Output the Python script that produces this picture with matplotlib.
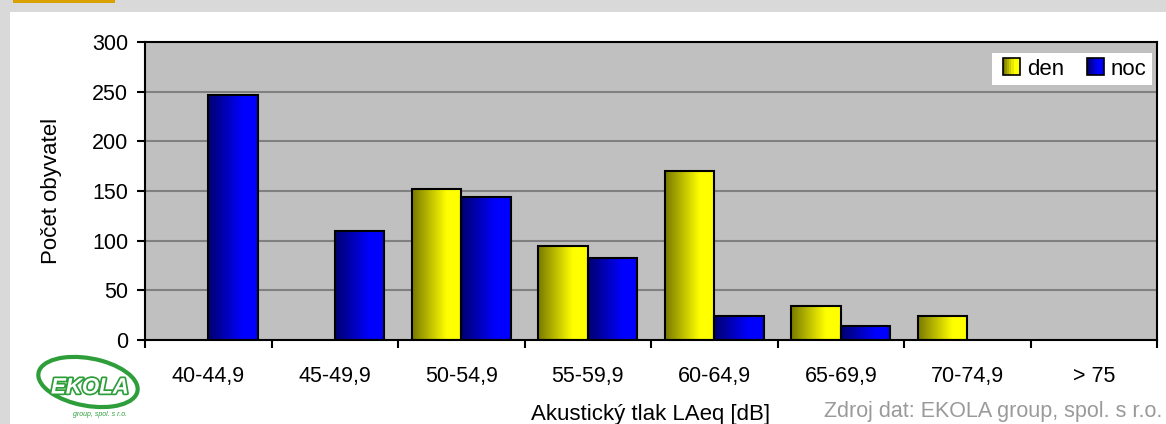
import numpy as np
import matplotlib
matplotlib.use("Agg")
from matplotlib import pyplot as plt
from matplotlib.colors import LinearSegmentedColormap
from matplotlib.patches import Rectangle, Ellipse
from matplotlib.legend_handler import HandlerBase
import matplotlib.patheffects as pe

categories = ["40-44,9", "45-49,9", "50-54,9", "55-59,9", "60-64,9", "65-69,9", "70-74,9", "> 75"]
den = [0, 0, 152, 95, 170, 34, 24, 0]
noc = [247, 110, 144, 83, 24, 14, 0, 0]
y_ticks = [0, 50, 100, 150, 200, 250, 300]

plt.rcParams['font.family'] = ['Liberation Sans', 'DejaVu Sans']

W, H = 1166, 424
fig = plt.figure(figsize=(W / 100, H / 100), dpi=100)
fig.patch.set_facecolor('#d9d9d9')

# white panel and orange tab
fig.add_artist(Rectangle((10 / W, 0), 1 - 10 / W, (H - 12) / H, transform=fig.transFigure,
                         facecolor='white', edgecolor='none', zorder=0))
fig.add_artist(Rectangle((13 / W, (H - 3) / H), 102 / W, 3 / H, transform=fig.transFigure,
                         facecolor='#d9a000', edgecolor='none', zorder=0))

ax = fig.add_axes([145 / W, (H - 340) / H, 1012 / W, 298 / H])
ax.set_facecolor('#c0c0c0')

cmap_den = LinearSegmentedColormap.from_list('den', [(0, '#7a7a00'), (0.7, '#ffff00'), (1, '#ffff00')])
cmap_noc = LinearSegmentedColormap.from_list('noc', [(0, '#000070'), (0.7, '#0000ff'), (1, '#0000ff')])
grad = np.linspace(0, 1, 64).reshape(1, -1)

x = np.arange(len(categories))
bw = 0.39


def gradient_bars(xs, vals, cmap):
    bars = ax.bar(xs, vals, width=bw, facecolor='none', edgecolor='black', linewidth=1.5, zorder=3)
    for b in bars:
        if b.get_height() <= 0:
            b.set_visible(False)
            continue
        x0, w, h = b.get_x(), b.get_width(), b.get_height()
        ax.imshow(grad, cmap=cmap, extent=[x0, x0 + w, 0, h], aspect='auto', zorder=2,
                  interpolation='bilinear')
    return bars


gradient_bars(x - bw / 2, den, cmap_den)
gradient_bars(x + bw / 2, noc, cmap_noc)

ax.set_xlim(-0.5, len(categories) - 0.5)
ax.set_ylim(0, 300)
ax.set_yticks(y_ticks)
ax.set_yticklabels([str(v) for v in y_ticks], fontsize=15.5)
ax.set_xticks(x)
ax.set_xticklabels(categories, fontsize=15.5)
ax.set_xticks(np.arange(-0.5, len(categories)), minor=True)
ax.tick_params(axis='x', which='major', length=0, pad=19)
ax.tick_params(axis='x', which='minor', length=6, width=1.5, direction='out')
ax.tick_params(axis='y', length=6, width=1.5, direction='out', pad=6)
for s in ax.spines.values():
    s.set_linewidth(1.5)
    s.set_color('black')
for v in y_ticks[1:-1]:
    ax.axhline(v, color='#808080', linewidth=1.5, zorder=1)

ax.set_ylabel('Počet obyvatel', fontsize=16, labelpad=22)
ax.set_xlabel('Akustický tlak LAeq [dB]', fontsize=16, labelpad=12)


class GradHandler(HandlerBase):
    def __init__(self, cmap):
        super().__init__()
        self.cmap = cmap

    def create_artists(self, legend, orig_handle, xdescent, ydescent, width, height, fontsize, trans):
        s = height * 1.1
        x0 = -xdescent + width - s
        y0 = -ydescent + (height - s) / 2
        arts = []
        n = 8
        for i in range(n):
            arts.append(Rectangle((x0 + i * s / n, y0), s / n, s, facecolor=self.cmap(i / (n - 1)),
                                  edgecolor='none', transform=trans))
        arts.append(Rectangle((x0, y0), s, s, facecolor='none', edgecolor='black', linewidth=1.2,
                              transform=trans))
        return arts


h_den = Rectangle((0, 0), 1, 1)
h_noc = Rectangle((0, 0), 1, 1)
leg = ax.legend([h_den, h_noc], ['den', 'noc'], loc='upper right', ncol=2, fontsize=16,
                handler_map={h_den: GradHandler(cmap_den), h_noc: GradHandler(cmap_noc)},
                frameon=True, fancybox=False, framealpha=1, edgecolor='white',
                handlelength=1.0, handletextpad=0.3, columnspacing=0.8, borderpad=0.25,
                borderaxespad=0, bbox_to_anchor=(0.995, 0.963))
leg.get_frame().set_linewidth(0)

# source note
fig.text(1162 / W, 2 / H, 'Zdroj dat: EKOLA group, spol. s r.o.', ha='right', va='bottom',
         fontsize=15.5, color='#9a9a9a')

# logo (approximation)
fig.add_artist(Ellipse((88 / W, 42 / H), 92 / W, 52 / H, angle=20, transform=fig.transFigure,
                       facecolor='none', edgecolor='#2e9e3a', linewidth=3))
fig.text(90 / W, 36 / H, 'EKOLA', ha='center', va='center', fontsize=16, fontweight='bold',
         color='white', style='italic',
         path_effects=[pe.withStroke(linewidth=2.5, foreground='#2e9e3a')])
fig.text(100 / W, 10 / H, 'group, spol. s r.o.', ha='center', va='center', fontsize=5,
         color='#2e9e3a', style='italic')

fig.savefig('out.png', dpi=100, facecolor=fig.get_facecolor())
